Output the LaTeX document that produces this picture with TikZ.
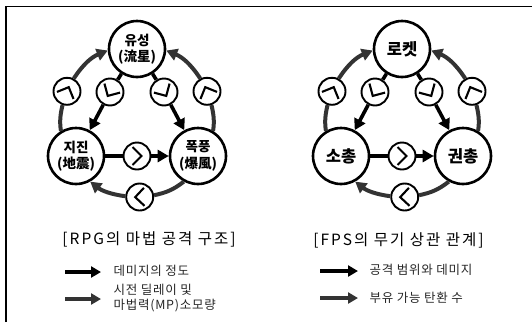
\documentclass[tikz,border=0pt]{standalone}
\usepackage{fontspec}
\setmainfont{Noto Sans CJK KR}
\usetikzlibrary{arrows.meta,calc}
\newcommand{\chevr}[2]{\draw[chev] ($(#1)+({#2+116.57}:10.06)$) -- ($(#1)+(#2:4.5)$) -- ($(#1)+({#2-116.57}:10.06)$);}
\newcommand{\mydiag}[6]{%
  \node[#6] (#1t) at (#2,-49) {#3};
  \node[#6] (#1l) at (#2-61,-156) {#4};
  \node[#6] (#1r) at (#2+61,-156) {#5};
  \node[small] (#1m) at (#2,-156) {};
  \node[small] (#1il) at (#2-27,-92) {};
  \node[small] (#1ir) at (#2+27,-92) {};
  \node[small] (#1ol) at (#2-70,-91.3) {};
  \node[small] (#1or) at (#2+70,-91.3) {};
  \node[small] (#1b) at (#2+2.7,-197) {};
  \draw[blkline] (#1t) -- (#1il);
  \draw[blk] (#1il) -- (#1l);
  \draw[blkline] (#1t) -- (#1ir);
  \draw[blk] (#1ir) -- (#1r);
  \draw[blkline] (#1l) -- (#1m);
  \draw[blk] (#1m) -- (#1r);
  \draw[gryline] (#1l.121) to[out=98,in=257] (#1ol.252);
  \draw[gry] (#1ol.62) to[out=57,in=202] (#1t.183);
  \draw[gryline] (#1r.59) to[out=82,in=283] (#1or.288);
  \draw[gry] (#1or.118) to[out=123,in=338] (#1t.-3);
  \draw[gryline] (#1r.241) to[out=218,in=12] (#1b.7);
  \draw[gry] (#1b.177) to[out=172,in=322] (#1l.299);
  \chevr{#1ol}{67}
  \chevr{#1or}{113}
  \chevr{#1il}{240}
  \chevr{#1ir}{300}
  \chevr{#1m}{0}
  \chevr{#1b}{182}
}
\begin{document}
\begin{tikzpicture}[x=1pt,y=1pt,
  big/.style={circle,draw,line width=2.6pt,minimum size=56pt,inner sep=0pt,align=center,font=\fontsize{13.5}{16.5}\selectfont\bfseries},
  bigR/.style={big,font=\fontsize{16.5}{18}\selectfont\bfseries},
  small/.style={circle,draw,fill=white,line width=1.9pt,minimum size=27pt,inner sep=0pt},
  blk/.style={line width=3.6pt,-{Triangle[length=11pt,width=12pt]}},
  blkline/.style={line width=3.6pt},
  gry/.style={line width=4pt,draw=black!80,-{Triangle[length=11pt,width=12pt]}},
  gryline/.style={line width=4pt,draw=black!80},
  chev/.style={line width=2.1pt,line join=miter},
  captext/.style={font=\fontsize{15.5}{18}\selectfont\addfontfeature{LetterSpace=13}},
  leg/.style={anchor=west,align=left,text=black!85,font=\fontsize{12.5}{15.5}\selectfont\addfontfeature{LetterSpace=6}},
  legblk/.style={line width=4pt,-{Triangle[length=10pt,width=11pt]}},
  leggry/.style={line width=4pt,draw=black!80,-{Triangle[length=10pt,width=11pt]}}
]
\useasboundingbox (0,0) rectangle (532,-322);
\draw[line width=1.3pt] (6,-322) -- (6,-6.5) -- (532,-6.5);
\mydiag{L}{137}{유성\\(流星)}{지진\\(地震)}{폭풍\\(爆風)}{big}
\mydiag{R}{402}{로켓}{소총}{권총}{bigR}
\node[captext] (capL) at (149,-239) {[RPG의 마법 공격 구조]};
\node[captext] (capR) at (398.5,-240) {[FPS의 무기 상관 관계]};
\coordinate (aL1a) at (65,-272); \coordinate (aL1b) at (101,-272);
\coordinate (aL2a) at (65,-299); \coordinate (aL2b) at (101,-299);
\coordinate (aR1a) at (320,-271); \coordinate (aR1b) at (358,-271);
\coordinate (aR2a) at (320,-298); \coordinate (aR2b) at (358,-298);
\draw[legblk] (aL1a) -- (aL1b);
\draw[leggry] (aL2a) -- (aL2b);
\draw[legblk] (aR1a) -- (aR1b);
\draw[leggry] (aR2a) -- (aR2b);
\node[leg] (legL1) at (110,-271) {데미지의 정도};
\node[leg] (legL2) at (110,-298) {시전 딜레이 및\\마법력(MP)소모량};
\node[leg] (legR1) at (366,-270) {공격 범위와 데미지};
\node[leg] (legR2) at (366,-298) {부유 가능 탄환 수};
\end{tikzpicture}
\end{document}
